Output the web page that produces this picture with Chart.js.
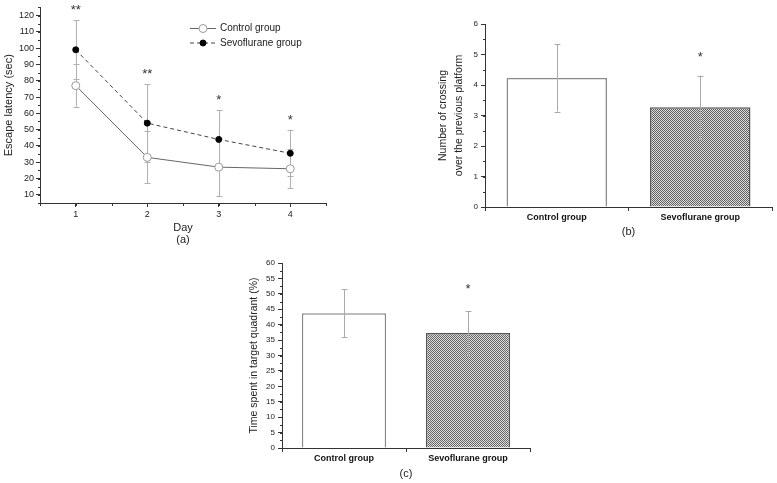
<!DOCTYPE html>
<html>
<head>
<meta charset="utf-8">
<script src="https://cdn.jsdelivr.net/npm/chart.js@4.4.1/dist/chart.umd.min.js"></script>
<style>
  body { margin: 0; background: #fff; width: 777px; height: 483px; position: relative; overflow: hidden; }
  canvas { position: absolute; }
</style>
</head>
<body>
<canvas id="chart-a" width="340" height="246" style="left:0;top:0"></canvas>
<canvas id="chart-b" width="377" height="245" style="left:400px;top:0"></canvas>
<canvas id="chart-c" width="345" height="233" style="left:200px;top:250px"></canvas>
<script>
// (a) escape latency over days
const days = [1, 2, 3, 4];
const controlLatency = [77, 33, 27, 26];
const controlLatencyErr = [13, 16, 18, 12];
const sevoLatency = [99, 54, 44, 35.5];
const sevoLatencyErr = [18, 24, 18, 14];
const latencyStars = ['**', '**', '*', '*'];
const latencyTicks = [10, 20, 30, 40, 50, 60, 70, 80, 90, 100, 110, 120];

// (b) and (c) bars
const groups = ['Control group', 'Sevoflurane group'];
const crossings = [4.23, 3.27];
const crossingsErr = [1.1, 1.04];
const crossingStars = ['', '*'];
const crossingTicks = [0, 1, 2, 3, 4, 5, 6];

const quadrantTime = [43.7, 37.3];
const quadrantErr = [7.8, 7.0];
const quadrantStars = ['', '*'];
const quadrantTicks = [0, 5, 10, 15, 20, 25, 30, 35, 40, 45, 50, 55, 60];

const FONT = '"Liberation Sans", Arial, sans-serif';
const AXIS = '#333';
Chart.defaults.font.family = FONT;
Chart.defaults.color = '#222';
Chart.defaults.animation = false;

function hatch(dark, light) {
  const c = document.createElement('canvas');
  c.width = 2; c.height = 2;
  const g = c.getContext('2d');
  g.fillStyle = light; g.fillRect(0, 0, 2, 2);
  g.fillStyle = dark; g.fillRect(0, 0, 1, 1); g.fillRect(1, 1, 1, 1);
  return g.createPattern(c, 'repeat');
}

function valueOf(v) { return typeof v === 'object' ? v.y : v; }

// error bars + significance stars, drawn with the chart's own y scale
const errorBars = {
  id: 'errorBars',
  beforeDatasetsDraw(chart, args, opts) { if (opts.behind) draw(chart, opts); },
  afterDatasetsDraw(chart, args, opts) { if (!opts.behind) draw(chart, opts); }
};
function draw(chart, opts) {
  const ctx = chart.ctx, y = chart.scales.y;
  const cap = opts.cap || 3;
  const tops = [];
  let xs = [];
  ctx.save();
  ctx.strokeStyle = opts.color || '#aaa';
  ctx.lineWidth = 1;
  chart.data.datasets.forEach((ds, di) => {
    if (!ds.errors) return;
    const meta = chart.getDatasetMeta(di);
    meta.data.forEach((el, i) => {
      const v = valueOf(ds.data[i]), e = ds.errors[i];
      const top = y.getPixelForValue(v + e), bot = y.getPixelForValue(v - e);
      const x = Math.round(el.x) + 0.5;
      ctx.beginPath();
      ctx.moveTo(x, top); ctx.lineTo(x, bot);
      ctx.moveTo(x - cap, Math.round(top) + 0.5); ctx.lineTo(x + cap, Math.round(top) + 0.5);
      ctx.moveTo(x - cap, Math.round(bot) + 0.5); ctx.lineTo(x + cap, Math.round(bot) + 0.5);
      ctx.stroke();
      tops[i] = Math.min(tops[i] ?? Infinity, top);
      xs[i] = el.x;
    });
  });
  if (opts.stars) {
    ctx.fillStyle = '#333';
    ctx.font = `${opts.starSize || 13}px ${FONT}`;
    ctx.textAlign = 'center';
    ctx.textBaseline = 'middle';
    opts.stars.forEach((s, i) => {
      if (s) ctx.fillText(s, xs[i], tops[i] - opts.starGap);
    });
  }
  ctx.restore();
}

// small minor ticks between the labelled ones
const minorTicks = {
  id: 'minorTicks',
  afterDraw(chart, args, opts) {
    const ctx = chart.ctx, area = chart.chartArea;
    ctx.save();
    ctx.strokeStyle = AXIS;
    ctx.lineWidth = 1;
    if (opts.y) {
      const s = chart.scales.y;
      for (let v = s.min; v <= s.max + 1e-9; v += opts.y) {
        const p = Math.round(s.getPixelForValue(v)) + 0.5;
        ctx.beginPath(); ctx.moveTo(area.left, p); ctx.lineTo(area.left - 2, p); ctx.stroke();
      }
    }
    if (opts.x) {
      const s = chart.scales.x;
      for (let v = s.min; v <= s.max + 1e-9; v += opts.x) {
        const p = Math.round(s.getPixelForValue(v)) + 0.5;
        ctx.beginPath(); ctx.moveTo(p, area.bottom); ctx.lineTo(p, area.bottom + 3); ctx.stroke();
      }
    }
    ctx.restore();
  }
};

// legend drawn inside the plot area of (a)
const insideLegend = {
  id: 'insideLegend',
  afterDraw(chart, args, opts) {
    if (!opts.items) return;
    const ctx = chart.ctx;
    ctx.save();
    ctx.font = `10px ${FONT}`;
    ctx.textBaseline = 'middle';
    opts.items.forEach((it, i) => {
      const ds = chart.data.datasets[it];
      const y = opts.y + i * 14.5 + 0.5;
      ctx.strokeStyle = ds.borderColor;
      ctx.setLineDash(ds.borderDash || []);
      ctx.beginPath(); ctx.moveTo(opts.x, y); ctx.lineTo(opts.x + 26, y); ctx.stroke();
      ctx.setLineDash([]);
      ctx.beginPath(); ctx.arc(opts.x + 13, y, ds.pointRadius, 0, Math.PI * 2);
      ctx.fillStyle = ds.pointBackgroundColor; ctx.fill();
      ctx.strokeStyle = ds.pointBorderColor; ctx.stroke();
      ctx.fillStyle = '#222';
      ctx.fillText(ds.label, opts.x + 30, y);
    });
    ctx.restore();
  }
};

function fixed(size) {
  return scale => {
    if (scale.isHorizontal()) scale.height = size; else scale.width = size;
  };
}
function setTicks(list) {
  return scale => { scale.ticks = list.map(v => ({ value: v })); };
}

const tickFont = { size: 9 };

new Chart(document.getElementById('chart-a'), {
  type: 'line',
  data: {
    datasets: [
      {
        label: 'Control group',
        data: days.map((d, i) => ({ x: d, y: controlLatency[i] })),
        errors: controlLatencyErr,
        borderColor: '#666', borderWidth: 1,
        pointRadius: 4, pointBackgroundColor: '#fff', pointBorderColor: '#999', pointBorderWidth: 1,
        tension: 0
      },
      {
        label: 'Sevoflurane group',
        data: days.map((d, i) => ({ x: d, y: sevoLatency[i] })),
        errors: sevoLatencyErr,
        borderColor: '#444', borderWidth: 1, borderDash: [4, 3],
        pointRadius: 3, pointBackgroundColor: '#000', pointBorderColor: '#000', pointBorderWidth: 1,
        tension: 0
      }
    ]
  },
  options: {
    responsive: false,
    layout: { padding: { top: 5, right: 14, left: 0, bottom: 0 } },
    plugins: {
      legend: { display: false },
      tooltip: { enabled: false },
      errorBars: { behind: true, color: '#b0b0b0', cap: 3, stars: latencyStars, starGap: 10, starSize: 13 },
      minorTicks: { y: 5, x: 0.5 },
      insideLegend: { items: [0, 1], x: 190, y: 28 }
    },
    scales: {
      x: {
        type: 'linear', min: 0.5, max: 4.5,
        afterBuildTicks: setTicks(days),
        afterFit: fixed(43),
        grid: { drawOnChartArea: false, tickLength: 4, color: AXIS },
        border: { color: AXIS, width: 1 },
        ticks: { font: tickFont, padding: 2, color: '#222' },
        title: { display: true, text: ['Day', '(a)'], font: { size: 11, lineHeight: 1.1 }, padding: { top: 0, bottom: 0 }, color: '#222' }
      },
      y: {
        min: 5, max: 125,
        afterBuildTicks: setTicks(latencyTicks),
        afterFit: fixed(40),
        grid: { drawOnChartArea: false, tickLength: 4, color: AXIS },
        border: { color: AXIS, width: 1 },
        ticks: { font: tickFont, padding: 2, color: '#222' },
        title: { display: true, text: 'Escape latency (sec)', font: { size: 11, lineHeight: 1.1 }, padding: { top: 3, bottom: 0 }, color: '#222' }
      }
    }
  },
  plugins: [errorBars, minorTicks, insideLegend]
});

function barChart(id, values, errs, stars, ticks, opts) {
  return new Chart(document.getElementById(id), {
    type: 'bar',
    data: {
      labels: groups,
      datasets: [{
        data: values,
        errors: errs,
        backgroundColor: ['#fff', hatch(opts.dark, '#dcdcdc')],
        borderColor: ['#8a8a8a', '#555'],
        borderWidth: 1.5,
        barPercentage: opts.barPct,
        categoryPercentage: 1
      }]
    },
    options: {
      responsive: false,
      layout: { padding: opts.padding },
      plugins: {
        legend: { display: false },
        tooltip: { enabled: false },
        errorBars: { color: '#aaa', cap: 3, stars: stars, starGap: opts.starGap, starSize: 13 },
        minorTicks: { y: opts.minor }
      },
      scales: {
        x: {
          afterFit: fixed(opts.xh),
          grid: { drawOnChartArea: false, tickLength: 4, color: AXIS, offset: true },
          border: { color: AXIS, width: 1 },
          ticks: { font: { size: 9, weight: 'bold' }, padding: 1, color: '#111' },
          title: { display: true, text: opts.tag, font: { size: 11, lineHeight: 1.1 }, padding: 0, color: '#222' }
        },
        y: {
          min: ticks[0], max: ticks[ticks.length - 1],
          afterBuildTicks: setTicks(ticks),
          afterFit: fixed(opts.yw),
          grid: { drawOnChartArea: false, tickLength: 4, color: AXIS },
          border: { color: AXIS, width: 1 },
          ticks: { font: { size: 8 }, padding: 3, color: '#222' },
          title: { display: true, text: opts.ytitle, font: { size: 10.5, lineHeight: 1.5 }, padding: { top: opts.ytPad, bottom: 0 }, color: '#222' }
        }
      }
    },
    plugins: [errorBars, minorTicks]
  });
}

barChart('chart-b', crossings, crossingsErr, crossingStars, crossingTicks, {
  dark: '#606060', barPct: 0.7, starGap: 18, minor: 0.5,
  padding: { top: 24, right: 5, left: 0, bottom: 7 }, xh: 31, yw: 85, ytPad: 35,
  tag: '(b)', ytitle: ['Number of crossing', 'over the previous platform']
});

barChart('chart-c', quadrantTime, quadrantErr, quadrantStars, quadrantTicks, {
  dark: '#666', barPct: 0.68, starGap: 22, minor: 2.5,
  padding: { top: 13, right: 15, left: 0, bottom: 3 }, xh: 32, yw: 82, ytPad: 46,
  tag: '(c)', ytitle: 'Time spent in target quadrant (%)'
});
</script>
</body>
</html>
